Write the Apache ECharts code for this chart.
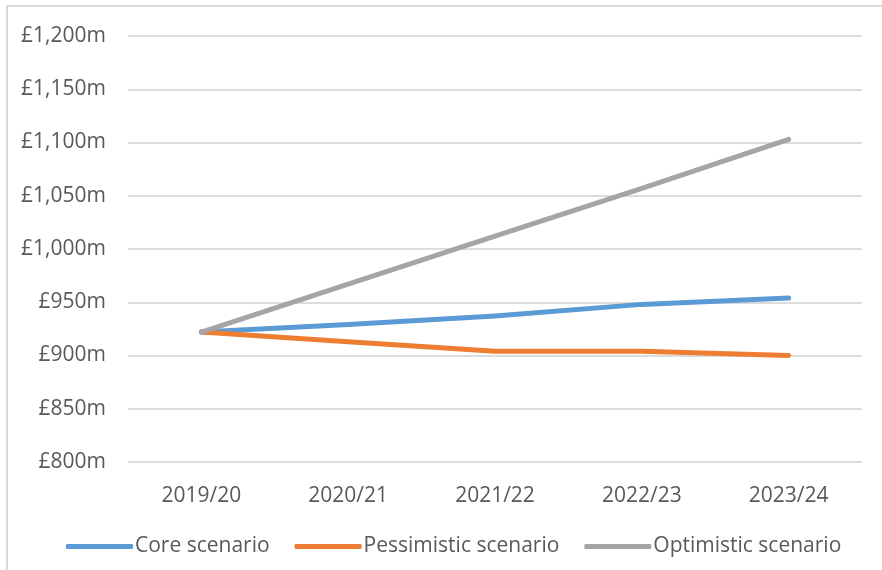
<!DOCTYPE html>
<html lang="en">
<head>
    <meta charset="UTF-8">
    <title>Funding scenarios</title>
    <script src="https://cdn.jsdelivr.net/npm/echarts@6/dist/echarts.min.js"></script>
    <style>
        html, body { margin: 0; padding: 0; background: #fff; }
    </style>
</head>
<body>
    <div id="chart" style="width:882px; height:570px"></div>
    <script>
        // years along the x axis
        const years = ['2019/20', '2020/21', '2021/22', '2022/23', '2023/24'];

        // values in £m
        const core = [922, 929, 937, 948, 954];
        const pessimistic = [922, 913, 904, 904, 900];
        const optimistic = [922, 967, 1012, 1057, 1103];

        const textCol = '#595959';
        const font = 'Open Sans';

        const chart = echarts.init(document.getElementById('chart'));

        function mkLine(name, data, color) {
            return {
                name: name,
                type: 'line',
                data: data,
                showSymbol: false,
                symbol: 'none',
                lineStyle: { color: color, width: 5, cap: 'round', join: 'round' },
                itemStyle: { color: color },
                emphasis: { disabled: true }
            };
        }

        chart.setOption({
            animation: false,
            // outer chart frame
            graphic: [{
                type: 'rect',
                shape: { x: 7, y: 6, width: 900, height: 600 },
                style: { fill: 'none', stroke: '#d9d9d9', lineWidth: 2 },
                silent: true
            }],
            grid: { left: 128, right: 20, top: 36, bottom: 108 },
            legend: {
                left: 61,
                top: 531,
                icon: 'roundRect',
                itemWidth: 67,
                itemHeight: 5,
                itemGap: 25,
                textStyle: { color: textCol, fontFamily: font, fontSize: 21, padding: [0, 0, 0, -3] },
                data: ['Core scenario', 'Pessimistic scenario', 'Optimistic scenario']
            },
            xAxis: {
                type: 'category',
                data: years,
                boundaryGap: true,
                axisLine: { show: false },
                axisTick: { show: false },
                axisLabel: { color: textCol, fontFamily: font, fontSize: 21, margin: 24 }
            },
            yAxis: {
                type: 'value',
                min: 800,
                max: 1200,
                interval: 50,
                axisLine: { show: false },
                axisTick: { show: false },
                splitLine: { lineStyle: { color: '#dcdcdc', width: 2 } },
                axisLabel: {
                    color: textCol, fontFamily: font, fontSize: 21, margin: 22,
                    formatter: v => '£' + v.toLocaleString('en-GB') + 'm'
                }
            },
            series: [
                mkLine('Core scenario', core, '#5b9bd5'),
                mkLine('Pessimistic scenario', pessimistic, '#ed7d31'),
                mkLine('Optimistic scenario', optimistic, '#a5a5a5')
            ]
        });
    </script>
</body>
</html>
